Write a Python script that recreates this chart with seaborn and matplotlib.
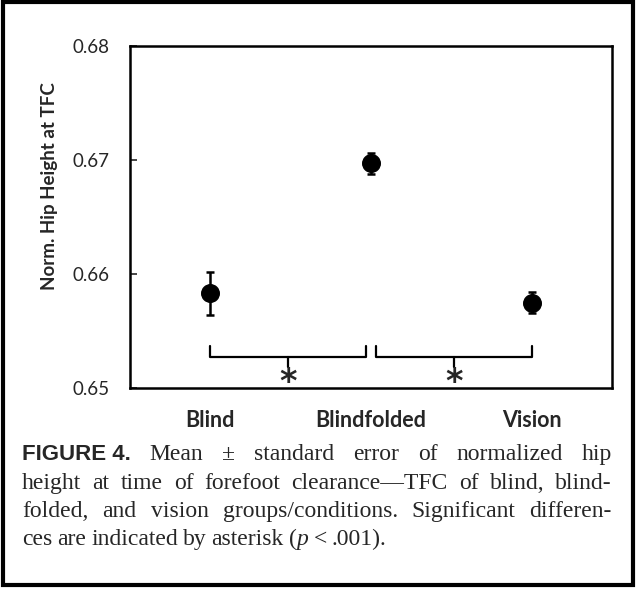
import numpy as np
import pandas as pd
import matplotlib
matplotlib.use("Agg")
import matplotlib.pyplot as plt
import seaborn as sns
from matplotlib.patches import Rectangle

# values
groups = ["Blind", "Blindfolded", "Vision"]
means = [0.6583, 0.6697, 0.6575]
se = [0.0019, 0.0009, 0.0009]
y_ticks = [0.65, 0.66, 0.67, 0.68]

# significance brackets (between group positions) and their y levels
brackets = [(0.0, 0.97), (1.03, 2.0)]
br_top, br_mid, br_tip, star_y = 0.6537, 0.6527, 0.6518, 0.6505

caption = [
    [("FIGURE 4.", "bold"), "Mean", "\u00b1", "standard", "error", "of", "normalized", "hip"],
    ["height", "at", "time", "of", "forefoot", "clearance\u2014TFC", "of", "blind,", "blind-"],
    ["folded,", "and", "vision", "groups/conditions.", "Significant", "differen-"],
    ["ces", "are", "indicated", "by", "asterisk", "(", ("p", "italic"), "<", ".001)."],
]

sns.set_style("white")
plt.rcParams["font.family"] = ["Lato", "DejaVu Sans"]

df = pd.DataFrame({"group": groups, "mean": means, "se": se})

fig = plt.figure(figsize=(6.36, 5.89), dpi=100)
ax = fig.add_axes([130 / 636, 1 - 388 / 589, 482 / 636, 342 / 589])

ax.errorbar(np.arange(len(groups)), df["mean"], yerr=df["se"], fmt="none",
            ecolor="black", elinewidth=1.8, capsize=3, capthick=1.8, zorder=2)
sns.scatterplot(data=df, x="group", y="mean", ax=ax, color="black", s=160,
                edgecolor="black", zorder=3, legend=False)

ax.set_xlim(-0.5, 2.5)
ax.set_ylim(0.65, 0.68)
ax.set_yticks(y_ticks)
ax.set_yticklabels([f"{t:.2f}" for t in y_ticks], fontsize=13.5)
ax.set_xticks(range(len(groups)))
ax.set_xticklabels(groups, fontsize=15.5, fontweight="bold")
ax.set_xticks([-0.5, 0.5, 1.5, 2.5], minor=True)
ax.tick_params(axis="x", which="major", length=0, pad=16)
ax.tick_params(axis="x", which="minor", length=5, color="0.6", direction="out")
ax.tick_params(axis="y", length=5, width=1.2, direction="in", pad=15, left=True)
ax.set_xlabel("")
ax.set_ylabel("Norm. Hip Height at TFC", fontsize=13.5, fontweight="bold")
ax.yaxis.set_label_coords(-0.15, 0.59)
for s in ax.spines.values():
    s.set_linewidth(1.8)
    s.set_color("black")

# brackets with asterisks
for x0, x1 in brackets:
    xm = (x0 + x1) / 2
    ax.plot([x0, x0, x1, x1], [br_top, br_mid, br_mid, br_top], color="black", lw=1.6)
    ax.plot([xm, xm], [br_mid, br_tip], color="black", lw=1.6)
    ax.text(xm, star_y, "*", ha="center", va="center", fontsize=24,
            fontweight="bold", family="DejaVu Sans")

# frame around whole figure
fig.patches.append(Rectangle((0.004, 0.006), 0.992, 0.99, transform=fig.transFigure,
                             fill=False, edgecolor="black", lw=3))

# justified caption
renderer = fig.canvas.get_renderer()
x_left, x_right = 22 / 636, 612 / 636
baselines = [460, 489, 517, 545]
for li, line in enumerate(caption):
    items = []
    for w in line:
        if isinstance(w, tuple):
            txt, style = w
        else:
            txt, style = w, "normal"
        if style == "bold":
            t = fig.text(0, 0, txt, fontsize=16, fontweight="bold",
                         family="Liberation Sans", va="baseline")
        elif style == "italic":
            t = fig.text(0, 0, txt, fontsize=17, style="italic",
                         family="Liberation Serif", va="baseline")
        else:
            t = fig.text(0, 0, txt, fontsize=17, family="Liberation Serif", va="baseline")
        items.append(t)
    widths = [t.get_window_extent(renderer).width / 636 for t in items]
    last = li == len(caption) - 1
    if last:
        gap = 5 / 636
    else:
        gap = (x_right - x_left - sum(widths)) / (len(items) - 1)
    x = x_left
    y = 1 - baselines[li] / 589
    for i, (t, w) in enumerate(zip(items, widths)):
        t.set_position((x, y))
        nxt = gap
        if last and t.get_text() == "(":
            nxt = 0
        x += w + nxt

fig.savefig("out.png", dpi=100, facecolor="white")
